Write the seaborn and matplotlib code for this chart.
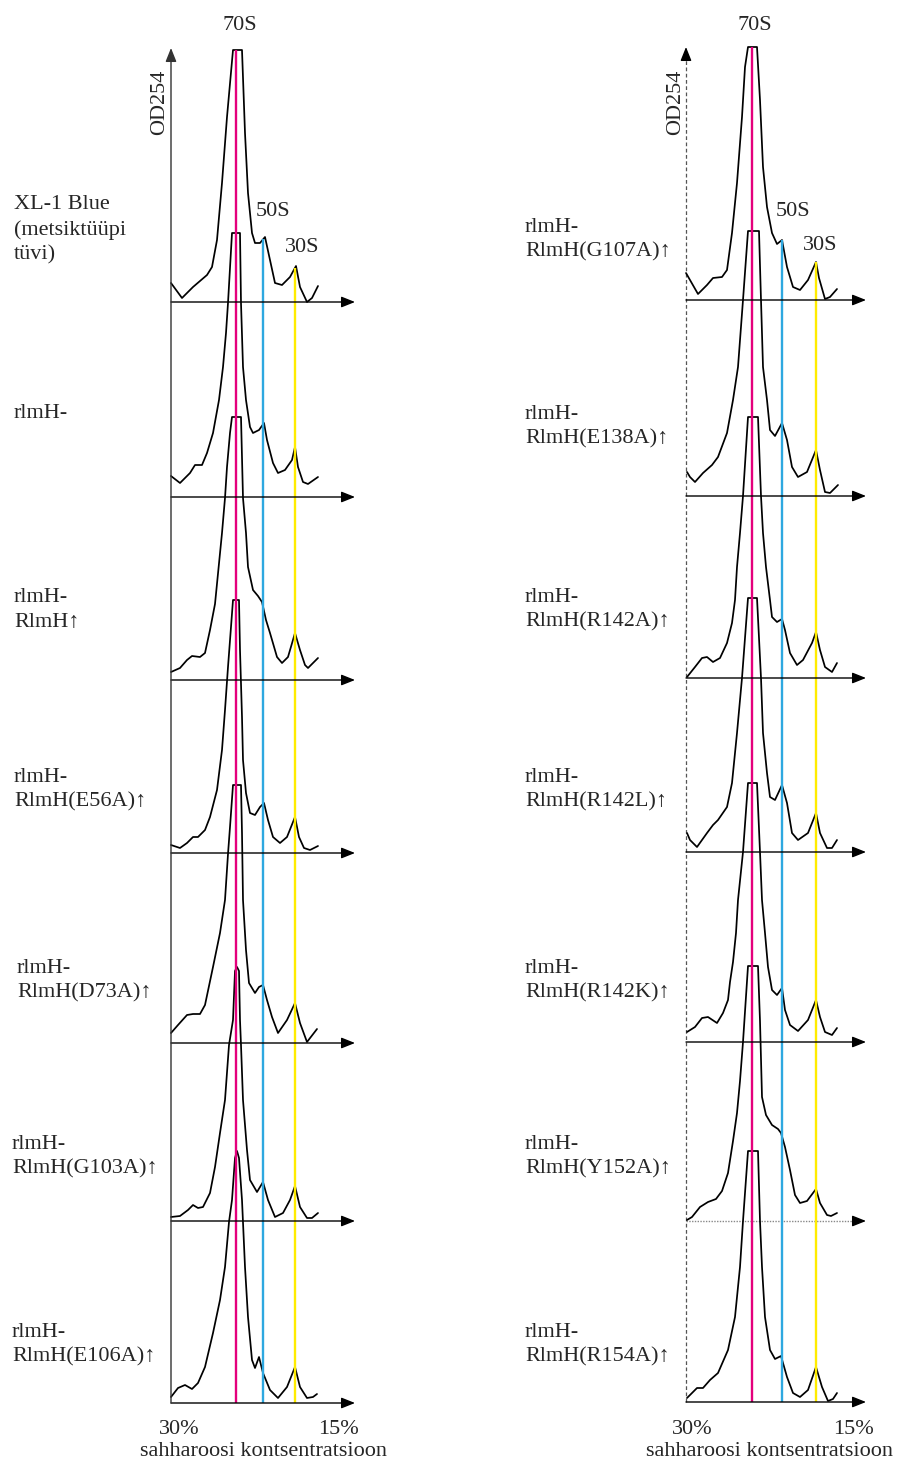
import numpy as np
import pandas as pd
import matplotlib
matplotlib.use("Agg")
import matplotlib.pyplot as plt
import seaborn as sns

# ---------------- data (x offset from the OD axis, height above baseline) -------------
# left column profiles
l1_x = [0, 11, 22, 36, 41, 46, 51, 56, 62, 71, 74, 77, 81, 84, 89, 94, 99, 104, 111, 119, 125, 129, 136, 141, 147]
l1_h = [19, 4, 15, 27, 35, 62, 119, 185, 252, 252, 169, 109, 69, 59, 59, 65, 42, 19, 17, 25, 36, 15, 0, 4, 16]
l2_x = [0, 9, 19, 24, 31, 36, 42, 48, 52, 55, 57, 61, 69, 70, 72, 75, 79, 82, 88, 93, 96, 102, 107, 114, 121, 124, 127, 132, 137, 147]
l2_h = [21, 14, 24, 32, 32, 44, 64, 97, 130, 164, 194, 264, 264, 194, 130, 97, 70, 64, 67, 74, 57, 34, 24, 27, 37, 50, 30, 15, 13, 20]
l3_x = [0, 9, 16, 21, 29, 34, 39, 44, 51, 54, 56, 59, 61, 70, 72, 75, 77, 82, 87, 91, 95, 99, 106, 111, 117, 124, 129, 134, 137, 147]
l3_h = [8, 12, 20, 24, 23, 27, 50, 76, 147, 182, 213, 247, 263, 263, 182, 147, 113, 90, 84, 78, 60, 47, 23, 17, 23, 47, 30, 15, 12, 22]
l4_x = [0, 9, 16, 22, 27, 34, 39, 46, 51, 54, 57, 60, 62, 68, 69, 71, 72, 75, 79, 84, 89, 93, 97, 102, 109, 116, 124, 128, 133, 139, 147]
l4_h = [8, 5, 10, 16, 16, 23, 36, 63, 103, 143, 186, 226, 253, 253, 203, 136, 93, 60, 40, 38, 46, 50, 33, 16, 10, 16, 36, 16, 5, 3, 7]
l5_x = [0, 7, 16, 22, 29, 34, 42, 49, 54, 57, 59, 62, 70, 71, 72, 75, 78, 84, 88, 92, 96, 101, 107, 116, 124, 129, 136, 146]
l5_h = [10, 18, 28, 29, 29, 38, 76, 110, 143, 189, 216, 258, 258, 210, 143, 93, 60, 50, 56, 58, 43, 26, 10, 23, 40, 20, 1, 14]
l6_x = [0, 9, 17, 22, 27, 32, 39, 44, 49, 54, 58, 62, 64, 66, 68, 69, 70, 72, 76, 79, 86, 92, 97, 104, 112, 119, 124, 129, 136, 141, 147]
l6_h = [4, 5, 11, 16, 13, 14, 28, 54, 88, 121, 176, 201, 250, 254, 250, 201, 176, 121, 71, 41, 29, 39, 21, 4, 8, 21, 35, 14, 3, 3, 8]
l7_x = [0, 7, 14, 21, 27, 34, 42, 49, 54, 58, 61, 64, 66, 68, 71, 74, 77, 81, 84, 88, 92, 99, 107, 116, 124, 129, 136, 142, 146]
l7_h = [6, 15, 18, 14, 20, 36, 70, 103, 136, 181, 203, 245, 252, 245, 203, 136, 86, 43, 35, 46, 30, 13, 5, 16, 36, 16, 5, 6, 9]

# right column profiles
r1_x = [0, 12, 21, 27, 36, 41, 46, 51, 56, 59, 62, 71, 74, 77, 81, 86, 91, 96, 101, 107, 114, 122, 130, 133, 139, 144, 151]
r1_h = [27, 6, 15, 22, 23, 30, 67, 117, 183, 233, 253, 253, 200, 133, 93, 67, 56, 60, 33, 13, 10, 20, 38, 22, 1, 3, 11]
r2_x = [1, 4, 9, 17, 26, 32, 41, 47, 52, 57, 62, 73, 75, 77, 81, 84, 89, 96, 101, 106, 112, 121, 130, 134, 139, 144, 152]
r2_h = [24, 19, 14, 23, 31, 39, 63, 96, 129, 196, 265, 265, 196, 129, 96, 66, 60, 73, 56, 29, 19, 24, 46, 26, 4, 3, 11]
r3_x = [1, 9, 16, 21, 27, 34, 41, 46, 49, 51, 54, 57, 62, 72, 75, 77, 80, 84, 86, 91, 96, 99, 104, 111, 117, 126, 130, 134, 139, 146, 151]
r3_h = [1, 11, 20, 21, 16, 20, 35, 55, 78, 111, 145, 182, 261, 261, 182, 145, 111, 78, 61, 56, 59, 48, 25, 13, 18, 35, 46, 28, 11, 6, 15]
r4_x = [1, 4, 11, 21, 27, 32, 41, 46, 51, 56, 62, 71, 75, 77, 81, 84, 89, 96, 101, 106, 112, 122, 130, 134, 141, 146, 151]
r4_h = [19, 12, 5, 19, 27, 32, 45, 69, 119, 174, 254, 254, 174, 119, 79, 55, 52, 67, 49, 19, 12, 19, 39, 19, 4, 4, 12]
r5_x = [1, 9, 16, 22, 31, 37, 42, 44, 47, 50, 52, 57, 62, 71, 74, 76, 79, 82, 86, 91, 96, 99, 104, 112, 122, 130, 134, 139, 146, 151]
r5_h = [10, 15, 24, 25, 19, 29, 42, 60, 80, 109, 142, 190, 259, 259, 190, 142, 109, 75, 52, 47, 54, 32, 17, 11, 22, 42, 25, 10, 7, 14]
r6_x = [1, 6, 14, 22, 30, 36, 42, 47, 51, 54, 57, 62, 72, 74, 76, 80, 86, 92, 95, 99, 104, 109, 114, 121, 130, 134, 141, 145, 151]
r6_h = [1, 4, 14, 19, 22, 30, 48, 80, 108, 140, 179, 255, 255, 200, 124, 106, 96, 92, 88, 74, 51, 26, 18, 20, 32, 18, 6, 5, 8]
r7_x = [1, 11, 17, 24, 32, 42, 49, 54, 57, 62, 72, 74, 76, 79, 84, 89, 95, 101, 107, 114, 122, 130, 136, 142, 147, 151]
r7_h = [4, 14, 14, 22, 29, 52, 85, 135, 181, 251, 251, 181, 135, 85, 52, 43, 46, 25, 9, 5, 12, 35, 15, 1, 3, 9]

left_labels = ["XL-1 Blue\n(metsiktüüpi\ntüvi)", "rlmH-", "rlmH-\nRlmH\u2191",
               "rlmH-\nRlmH(E56A)\u2191", "rlmH-\nRlmH(D73A)\u2191",
               "rlmH-\nRlmH(G103A)\u2191", "rlmH-\nRlmH(E106A)\u2191"]
right_labels = ["rlmH-\nRlmH(G107A)\u2191", "rlmH-\nRlmH(E138A)\u2191", "rlmH-\nRlmH(R142A)\u2191",
                "rlmH-\nRlmH(R142L)\u2191", "rlmH-\nRlmH(R142K)\u2191",
                "rlmH-\nRlmH(Y152A)\u2191", "rlmH-\nRlmH(R154A)\u2191"]
peak_names = ["70S", "50S", "30S"]
tick_labels = ["30%", "15%"]
x_title = "sahharoosi kontsentratsioon"
y_title = "OD254"

# ---------------- layout -------------------------------------------------------------
W, H = 901, 1466
SERIF = ["Liberation Serif", "DejaVu Serif"]
FS = 16
MAGENTA, BLUE, YELLOW = "#E4007C", "#2EA8E0", "#FFEC00"

columns = [
    dict(axis_x=171, arrow_len=184, bases=[302, 497, 680, 853, 1043, 1221, 1403],
         profiles=[(l1_x, l1_h), (l2_x, l2_h), (l3_x, l3_h), (l4_x, l4_h),
                   (l5_x, l5_h), (l6_x, l6_h), (l7_x, l7_h)],
         markers=[65, 92, 124], labels=left_labels,
         label_x=[14, 14, 14, 14, 17, 12, 12],
         label_y=[230, 414, 610, 790, 981, 1157, 1345],
         dashed=False, p70=(240, 25), p50=(273, 212), p30=(302, 248),
         ticks=(179, 338), title_x=263, od=(160, 102)),
    dict(axis_x=686, arrow_len=180, bases=[300, 496, 678, 852, 1042, 1221, 1402],
         profiles=[(r1_x, r1_h), (r2_x, r2_h), (r3_x, r3_h), (r4_x, r4_h),
                   (r5_x, r5_h), (r6_x, r6_h), (r7_x, r7_h)],
         markers=[66, 96, 130], labels=right_labels,
         label_x=[525] * 7,
         label_y=[240, 427, 610, 790, 981, 1157, 1345],
         dashed=True, p70=(755, 25), p50=(793, 212), p30=(820, 245),
         ticks=(692, 853), title_x=770, od=(676, 102)),
]

sns.set_theme(style="white")
plt.rcParams["font.family"] = SERIF

fig = plt.figure(figsize=(W / 100, H / 100), dpi=100)
ax = fig.add_axes([0, 0, 1, 1])

rows = []
for ci, col in enumerate(columns):
    for pi, ((xs, hs), base) in enumerate(zip(col["profiles"], col["bases"])):
        for k, (xo, hv) in enumerate(zip(xs, hs)):
            rows.append(dict(uid=f"{ci}-{pi}", order=k, x=col["axis_x"] + xo, y=base - hv))
df = pd.DataFrame(rows)

sns.lineplot(data=df, x="x", y="y", units="uid", estimator=None, sort=False,
             color="black", linewidth=1.25, ax=ax, legend=False, zorder=2,
             solid_joinstyle="round", solid_capstyle="round")

arrow_h = dict(arrowstyle="-|>,head_length=0.55,head_width=0.22", color="black",
               lw=1.0, shrinkA=0, shrinkB=0, mutation_scale=15)

for ci, col in enumerate(columns):
    ax0 = col["axis_x"]
    bases = col["bases"]
    x1, h1 = col["profiles"][0]
    # colored marker lines
    for xo, c in zip(col["markers"], [MAGENTA, BLUE, YELLOW]):
        top = bases[0] - np.interp(xo, x1, h1)
        ax.plot([ax0 + xo, ax0 + xo], [bases[-1], top], color=c, lw=1.7, zorder=3,
                solid_capstyle="butt")
    # baselines with arrows
    for pi, base in enumerate(bases):
        end = ax0 + col["arrow_len"]
        if ci == 1 and pi == 5:
            ax.plot([ax0, end - 10], [base, base], color="#888888", lw=1.0,
                    linestyle=(0, (1, 1)), zorder=1)
            ax.annotate("", xy=(end, base), xytext=(end - 10, base), arrowprops=arrow_h)
        else:
            ax.annotate("", xy=(end, base), xytext=(ax0, base), arrowprops=arrow_h)
    # vertical OD axis
    if col["dashed"]:
        ax.plot([ax0, ax0], [bases[-1], 60], color="#555555", lw=0.9,
                linestyle=(0, (3, 2)), zorder=1)
        ax.annotate("", xy=(ax0, 47), xytext=(ax0, 60), arrowprops=arrow_h)
    else:
        ax.annotate("", xy=(ax0, 48), xytext=(ax0, bases[-1]),
                    arrowprops=dict(arrow_h, color="#333333"))
    # peak names
    for name, pos in zip(peak_names, [col["p70"], col["p50"], col["p30"]]):
        ax.text(pos[0], pos[1], name, ha="center", va="center", fontsize=FS, family=SERIF)
    ax.text(col["od"][0], col["od"][1], y_title, rotation=90, ha="center", va="center",
            fontsize=FS, family=SERIF)
    # strain labels
    for lab, lx, ly in zip(col["labels"], col["label_x"], col["label_y"]):
        ax.text(lx, ly, lab, ha="left", va="center", fontsize=FS, family=SERIF,
                linespacing=1.4)
    # bottom tick labels and title
    for t, tx in zip(tick_labels, col["ticks"]):
        ax.text(tx, 1430, t, ha="center", va="center", fontsize=FS, family=SERIF)
    ax.text(col["title_x"], 1451, x_title, ha="center", va="center", fontsize=FS, family=SERIF)

ax.set_xlim(0, W)
ax.set_ylim(H, 0)
ax.axis("off")
fig.savefig("out.png", dpi=100, facecolor="white")
